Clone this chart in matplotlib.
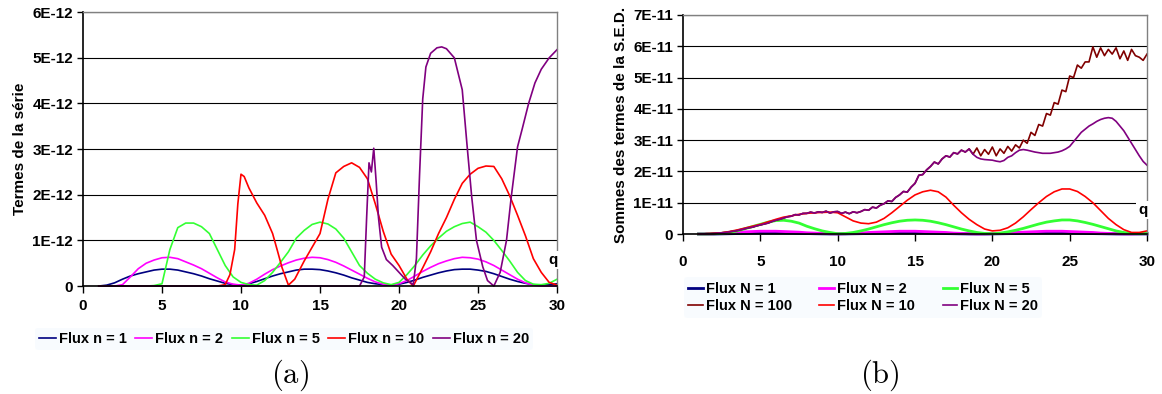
import numpy as np
import matplotlib
matplotlib.use("Agg")
import matplotlib.pyplot as plt
from matplotlib.ticker import FuncFormatter

plt.rcParams['font.family'] = ['Liberation Sans', 'DejaVu Sans']
plt.rcParams['mathtext.fontset'] = 'cm'

# ---- panel (a): terms of the series, values in units of 1E-12 ----
q_a = np.arange(1, 30.01, 0.5)
flux_n1 = [0, 0.02, 0.07, 0.15, 0.22, 0.27, 0.31, 0.35, 0.37, 0.37, 0.35, 0.31, 0.27, 0.22, 0.16, 0.11, 0.06, 0.03, 0.02,
           0.05, 0.1, 0.16, 0.22, 0.27, 0.31, 0.35, 0.37, 0.37, 0.36, 0.33, 0.29, 0.24, 0.18, 0.13, 0.08, 0.05, 0.03, 0.02, 0.04,
           0.08, 0.13, 0.19, 0.24, 0.29, 0.33, 0.36, 0.37, 0.37, 0.35, 0.32, 0.27, 0.21, 0.15, 0.1, 0.06, 0.03, 0.02, 0.03, 0.05]
flux_n2 = [0, 0, 0, 0.03, 0.2, 0.38, 0.5, 0.57, 0.62, 0.63, 0.6, 0.53, 0.46, 0.38, 0.28, 0.18, 0.09, 0.04, 0.02,
           0.06, 0.15, 0.26, 0.36, 0.44, 0.51, 0.57, 0.61, 0.63, 0.62, 0.58, 0.52, 0.44, 0.35, 0.26, 0.17, 0.09, 0.04, 0.02, 0.05,
           0.12, 0.22, 0.32, 0.41, 0.49, 0.55, 0.6, 0.63, 0.62, 0.59, 0.53, 0.45, 0.35, 0.25, 0.15, 0.07, 0.02, 0.0, 0.0, 0.0]
flux_n5 = [0, 0, 0, 0, 0, 0, 0, 0.01, 0.05, 0.8, 1.28, 1.38, 1.38, 1.3, 1.15, 0.8, 0.45, 0.2, 0.08,
           0.03, 0.02, 0.12, 0.3, 0.52, 0.75, 1.05, 1.22, 1.35, 1.4, 1.36, 1.25, 1.05, 0.75, 0.45, 0.28, 0.15, 0.07, 0.03, 0.08,
           0.25, 0.45, 0.68, 0.88, 1.05, 1.2, 1.3, 1.37, 1.4, 1.3, 1.18, 1.0, 0.78, 0.55, 0.3, 0.12, 0.04, 0.03, 0.06, 0.15]
q_n10 = [1, 8.5, 9.0, 9.3, 9.6, 9.8, 10.0, 10.2, 10.5, 11.0, 11.5, 12.0, 12.3, 12.6, 13.0, 13.4, 14.0, 14.5, 15.0, 15.5,
         16.0, 16.5, 17.0, 17.5, 18.0, 18.5, 19.0, 19.5, 20.0, 20.5, 20.9, 21.5, 22.0, 22.5, 23.0, 23.5, 24.0, 24.5, 25.0, 25.5,
         26.0, 26.5, 27.0, 27.5, 28.0, 28.5, 29.0, 29.5, 30.0]
flux_n10 = [0, 0, 0.03, 0.25, 0.8, 1.8, 2.45, 2.4, 2.15, 1.82, 1.55, 1.15, 0.78, 0.4, 0.02, 0.15, 0.55, 0.85, 1.15, 1.9,
            2.48, 2.62, 2.7, 2.6, 2.35, 1.8, 1.2, 0.7, 0.45, 0.15, 0.0, 0.4, 0.75, 1.15, 1.5, 1.9, 2.25, 2.45, 2.58, 2.63,
            2.62, 2.35, 1.98, 1.55, 1.1, 0.6, 0.3, 0.08, 0.02]
q_n20 = [1, 17.5, 17.8, 17.95, 18.1, 18.25, 18.4, 18.55, 18.7, 18.9, 19.2, 19.6, 20.0, 20.4, 20.9, 21.1, 21.3, 21.5, 21.7, 22.0,
         22.4, 22.7, 23.0, 23.5, 24.0, 24.3, 24.6, 24.9, 25.3, 25.6, 26.0, 26.4, 26.8, 27.1, 27.5, 27.8, 28.2, 28.6, 29.0, 29.5,
         30.0]
flux_n20 = [0, 0, 0.2, 1.5, 2.7, 2.5, 3.02, 2.3, 1.5, 0.85, 0.58, 0.45, 0.3, 0.15, 0.03, 0.6, 2.45, 4.1, 4.8, 5.1,
            5.22, 5.24, 5.2, 5.0, 4.3, 3.1, 1.95, 1.0, 0.42, 0.12, 0.0, 0.3, 1.0, 1.95, 3.05, 3.45, 4.0, 4.45, 4.75, 5.0,
            5.18]

# ---- panel (b): sums of the S.E.D. terms, values in units of 1E-11 ----
q_b = np.arange(1, 30.01, 0.5)
sed_n1 = [0, 0, 0, 0.005, 0.01, 0.015, 0.02, 0.025, 0.028, 0.03, 0.03, 0.028, 0.025, 0.02, 0.015, 0.01, 0.006, 0.003, 0.002,
          0.004, 0.008, 0.012, 0.017, 0.021, 0.025, 0.028, 0.03, 0.03, 0.029, 0.027, 0.023, 0.019, 0.014, 0.01, 0.006, 0.003, 0.002, 0.002, 0.004,
          0.008, 0.012, 0.017, 0.021, 0.025, 0.028, 0.03, 0.03, 0.029, 0.027, 0.023, 0.019, 0.014, 0.01, 0.006, 0.003, 0.002, 0.002, 0.003, 0.004]
sed_n2 = [0, 0, 0.01, 0.02, 0.04, 0.06, 0.07, 0.08, 0.09, 0.09, 0.09, 0.08, 0.07, 0.06, 0.04, 0.03, 0.02, 0.01, 0.005,
          0.01, 0.02, 0.03, 0.05, 0.06, 0.07, 0.08, 0.09, 0.09, 0.09, 0.08, 0.07, 0.06, 0.05, 0.03, 0.02, 0.01, 0.005, 0.005, 0.01,
          0.02, 0.03, 0.05, 0.06, 0.07, 0.08, 0.09, 0.09, 0.09, 0.08, 0.07, 0.06, 0.05, 0.03, 0.02, 0.01, 0.005, 0.005, 0.01, 0.01]
sed_n5 = [0, 0, 0.01, 0.02, 0.05, 0.1, 0.17, 0.24, 0.31, 0.38, 0.43, 0.44, 0.41, 0.35, 0.25, 0.17, 0.1, 0.05, 0.01,
          0.02, 0.05, 0.1, 0.16, 0.23, 0.3, 0.36, 0.41, 0.44, 0.45, 0.44, 0.41, 0.36, 0.3, 0.23, 0.16, 0.1, 0.05, 0.02, 0.01,
          0.03, 0.07, 0.12, 0.18, 0.25, 0.32, 0.38, 0.42, 0.45, 0.45, 0.42, 0.37, 0.31, 0.24, 0.17, 0.1, 0.05, 0.02, 0.01, 0.02]
sed_n10 = [0, 0.01, 0.02, 0.04, 0.08, 0.13, 0.19, 0.25, 0.31, 0.39, 0.47, 0.54, 0.58, 0.63, 0.66, 0.68, 0.69, 0.7, 0.68,
           0.55, 0.42, 0.35, 0.33, 0.38, 0.5, 0.68, 0.88, 1.08, 1.25, 1.35, 1.4, 1.35, 1.18, 0.92, 0.68, 0.47, 0.3, 0.16, 0.1,
           0.12, 0.2, 0.35, 0.55, 0.78, 1.0, 1.2, 1.35, 1.44, 1.44, 1.36, 1.2, 1.0, 0.75, 0.5, 0.3, 0.14, 0.05, 0.05, 0.1]

q_fine = np.arange(1, 30.01, 0.25)
sed_n100 = [0.00, 0.00, 0.01, 0.01,  0.02, 0.03, 0.04, 0.05,  0.07, 0.09, 0.11, 0.14,  0.17, 0.20, 0.22, 0.26,
            0.29, 0.32, 0.35, 0.40,  0.44, 0.47, 0.51, 0.55,  0.57, 0.62, 0.61, 0.66,  0.66, 0.70, 0.67, 0.71,
            0.69, 0.73, 0.67, 0.71,  0.72, 0.66, 0.70, 0.65,  0.71, 0.68, 0.72, 0.78,  0.76, 0.86, 0.83, 0.92,
            0.97, 1.06, 1.04, 1.17,  1.25, 1.36, 1.34, 1.50,  1.62, 1.88, 1.90, 2.05,  2.16, 2.30, 2.24, 2.40,
            2.50, 2.46, 2.60, 2.56,  2.68, 2.62, 2.72, 2.55,  2.75, 2.50, 2.70, 2.55,  2.78, 2.50, 2.72, 2.58,
            2.80, 2.65, 2.85, 2.75,  3.00, 2.90, 3.25, 3.15,  3.50, 3.45, 3.85, 3.80,  4.20, 4.15, 4.60, 4.55,
            5.05, 5.00, 5.40, 5.30,  5.50, 5.50, 5.98, 5.65,  5.95, 5.70, 5.90, 5.75,  5.95, 5.60, 5.85, 5.55,
            5.90, 5.70, 5.65, 5.55,  5.75]
sed_n20 = [0.00, 0.00, 0.01, 0.01,  0.02, 0.03, 0.04, 0.05,  0.07, 0.09, 0.11, 0.14,  0.17, 0.20, 0.22, 0.26,
           0.29, 0.32, 0.35, 0.40,  0.44, 0.47, 0.51, 0.55,  0.57, 0.62, 0.61, 0.66,  0.66, 0.70, 0.67, 0.71,
           0.69, 0.73, 0.67, 0.71,  0.72, 0.66, 0.70, 0.65,  0.71, 0.68, 0.72, 0.78,  0.76, 0.86, 0.83, 0.92,
           0.97, 1.06, 1.04, 1.17,  1.25, 1.36, 1.34, 1.50,  1.62, 1.88, 1.90, 2.05,  2.16, 2.30, 2.24, 2.40,
           2.50, 2.46, 2.60, 2.56,  2.68, 2.62, 2.72, 2.55,  2.45, 2.40, 2.38, 2.37,  2.36, 2.33, 2.31, 2.35,
           2.45, 2.50, 2.60, 2.68,  2.70, 2.68, 2.65, 2.62,  2.60, 2.58, 2.58, 2.58,  2.60, 2.62, 2.66, 2.72,
           2.80, 2.95, 3.10, 3.25,  3.35, 3.45, 3.52, 3.60,  3.66, 3.70, 3.72, 3.70,  3.60, 3.45, 3.30, 3.10,
           2.90, 2.70, 2.50, 2.32,  2.20]

NAVY, MAGENTA, GREEN, RED, PURPLE, DARKRED = '#000080', '#FF00FF', '#33FF33', '#FF0000', '#800080', '#800000'
FS = 11


def style_axes(ax, ymax, step, exp, xpad):
    ax.set_xlim(0, 30)
    ax.set_ylim(0, ymax)
    ax.set_xticks(range(0, 31, 5))
    ax.set_yticks(np.arange(0, ymax + step / 2, step))
    ax.yaxis.set_major_formatter(FuncFormatter(
        lambda y, _: '0' if y == 0 else f'{round(y / step)}E-{exp}'))
    ax.grid(axis='y', color='black', lw=0.8)
    ax.set_axisbelow(True)
    for s in ('left', 'bottom'):
        ax.spines[s].set_color('black')
        ax.spines[s].set_linewidth(1.2)
    for s in ('top', 'right'):
        ax.spines[s].set_color('#808080')
        ax.spines[s].set_linewidth(1.0)
    ax.tick_params(axis='x', direction='out', length=5, width=1, pad=xpad)
    ax.tick_params(axis='y', direction='out', length=4, width=1, pad=3)
    for lab in ax.get_xticklabels() + ax.get_yticklabels():
        lab.set_fontweight('bold')
        lab.set_fontsize(FS)


fig = plt.figure(figsize=(11.62, 3.94), dpi=100)

# panel (a)
ax1 = fig.add_axes([0.0714, 0.274, 0.408, 0.695])
s = 1e-12
ax1.plot(q_a, np.array(flux_n1) * s, color=NAVY, lw=1.2, label='Flux n = 1', clip_on=False)
ax1.plot(q_a, np.array(flux_n2) * s, color=MAGENTA, lw=1.2, label='Flux n = 2', clip_on=False)
ax1.plot(q_a, np.array(flux_n5) * s, color=GREEN, lw=1.2, label='Flux n = 5', clip_on=False)
ax1.plot(q_n10, np.array(flux_n10) * s, color=RED, lw=1.2, label='Flux n = 10', clip_on=False)
ax1.plot(q_n20, np.array(flux_n20) * s, color=PURPLE, lw=1.2, label='Flux n = 20', clip_on=False)
style_axes(ax1, 6e-12, 1e-12, 12, 4)
ax1.set_ylabel('Termes de la série', fontsize=FS, fontweight='bold', labelpad=4)
ax1.text(29.75, 0.57e-12, 'q', fontsize=FS, fontweight='bold', ha='center', va='center',
         bbox=dict(facecolor='white', edgecolor='none', pad=1.5))
leg1 = ax1.legend(loc='upper center', bbox_to_anchor=(0.424, -0.125), ncol=5, frameon=True,
                  handlelength=1.15, handletextpad=0.2, columnspacing=0.6, borderpad=0.3,
                  prop=dict(size=10.5, weight='bold'))
leg1.get_frame().set_facecolor('#F7FBFE')
leg1.get_frame().set_edgecolor('none')
fig.text(0.25, 0.048, r'$\mathrm{(a)}$', fontsize=22, ha='center', va='center')

# panel (b)
ax2 = fig.add_axes([0.5878, 0.406, 0.3993, 0.556])
s = 1e-11
l1, = ax2.plot(q_b, np.array(sed_n1) * s, color=NAVY, lw=2, label='Flux N = 1', clip_on=False)
l2, = ax2.plot(q_b, np.array(sed_n2) * s, color=MAGENTA, lw=2, label='Flux N = 2', clip_on=False)
l5, = ax2.plot(q_b, np.array(sed_n5) * s, color=GREEN, lw=2, label='Flux N = 5', clip_on=False)
l100, = ax2.plot(q_fine, np.array(sed_n100) * s, color=DARKRED, lw=1.2, label='Flux N = 100', clip_on=False)
l10, = ax2.plot(q_b, np.array(sed_n10) * s, color=RED, lw=1.2, label='Flux N = 10', clip_on=False)
l20, = ax2.plot(q_fine, np.array(sed_n20) * s, color=PURPLE, lw=1.2, label='Flux N = 20', clip_on=False)
style_axes(ax2, 7e-11, 1e-11, 11, 10)
ax2.set_ylabel('Sommes des termes de la S.E.D.', fontsize=FS, fontweight='bold', labelpad=4)
ax2.text(29.75, 0.77e-11, 'q', fontsize=FS, fontweight='bold', ha='center', va='center',
         bbox=dict(facecolor='white', edgecolor='none', pad=1.5))
leg2 = ax2.legend([l1, l100, l2, l10, l5, l20],
                  ['Flux N = 1', 'Flux N = 100', 'Flux N = 2', 'Flux N = 10', 'Flux N = 5', 'Flux N = 20'],
                  loc='upper center', bbox_to_anchor=(0.388, -0.165), ncol=3, frameon=True,
                  handlelength=1.0, handletextpad=0.2, columnspacing=1.9, borderpad=0.3,
                  labelspacing=0.25, prop=dict(size=10.5, weight='bold'))
leg2.get_frame().set_facecolor('#F7FBFE')
leg2.get_frame().set_edgecolor('none')
fig.text(0.757, 0.048, r'$\mathrm{(b)}$', fontsize=22, ha='center', va='center')

fig.savefig('out.png', dpi=100)
